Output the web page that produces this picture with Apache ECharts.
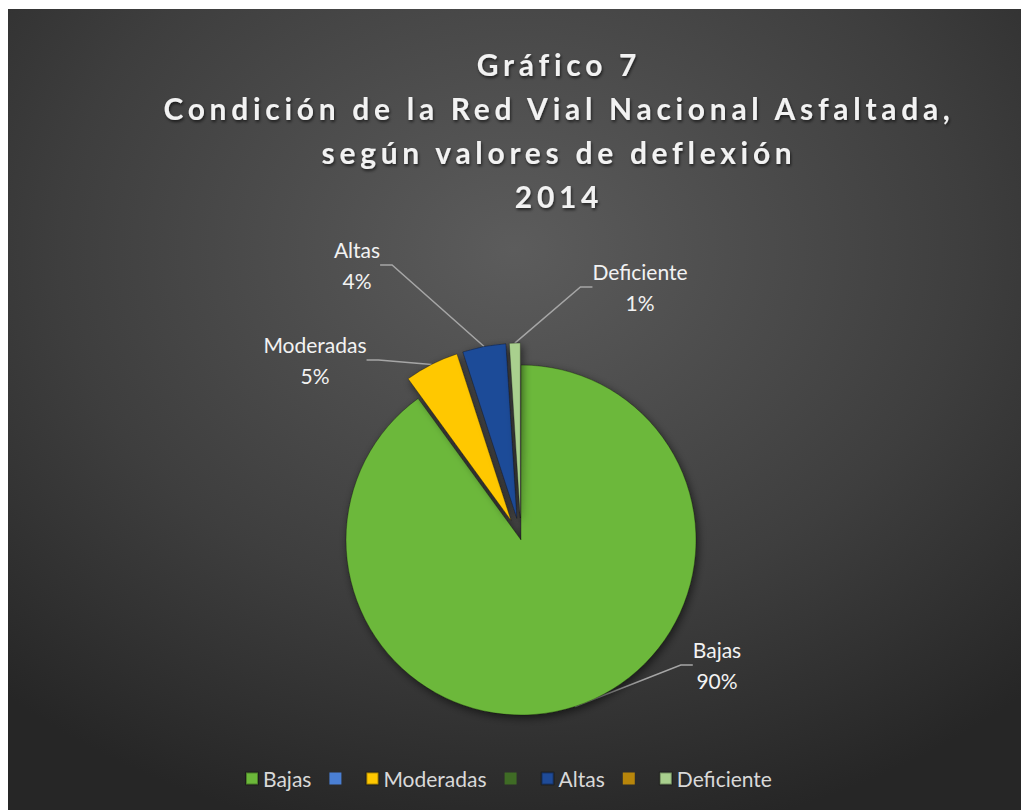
<!DOCTYPE html>
<html>
<head>
<meta charset="utf-8">
<script src="https://cdn.jsdelivr.net/npm/echarts@6/dist/echarts.min.js"></script>
<style>
  html, body { margin: 0; padding: 0; background: #fff; }
  #chart { position: absolute; left: 8px; top: 9px; width: 1013px; height: 801px; }
  /* el titulo original va con espaciado entre letras */
  #chart svg text[style*="30px"] { letter-spacing: 4.7px; }
</style>
</head>
<body>
<div id="chart"></div>
<script>
// categorias (las vacias vienen de la hoja original, sin valor)
const categories = ['Bajas', ' ', 'Moderadas', '  ', 'Altas', '   ', 'Deficiente'];
const shares = [90, 0, 5, 0, 4, 0, 1];
const colors = ['#6cb83a', '#4a7fd4', '#ffc800', '#3f6b25', '#1f4b98', '#b8860b', '#a9d08e'];
const exploded = ['Moderadas', 'Altas', 'Deficiente'];

// posicion de las etiquetas (como en el grafico original)
const labelPos = {
  'Bajas': [709, 656],
  'Moderadas': [307, 351],
  'Altas': [349, 256],
  'Deficiente': [632, 278]
};

const FONT = 'Lato';
const CENTER = [513, 531];
const RADIUS = 175;
const OFFSET = 22;

let chart = echarts.init(document.getElementById('chart'), null, { renderer: 'svg' });

// serie principal: sectores, etiqueta solo de los no separados
let pieData = categories.map((name, i) => {
  let hasValue = shares[i] > 0;
  let isOut = exploded.indexOf(name) >= 0;
  return {
    name: name,
    value: shares[i],
    selected: isOut,
    itemStyle: { color: colors[i], borderWidth: hasValue ? 1 : 0 },
    label: { show: hasValue && !isOut },
    labelLine: { show: hasValue && !isOut }
  };
});

// serie invisible que lleva las etiquetas de los sectores separados
let labelData = categories.map((name, i) => {
  let isOut = exploded.indexOf(name) >= 0 && shares[i] > 0;
  return {
    name: name,
    value: shares[i],
    label: { show: isOut },
    labelLine: { show: isOut }
  };
});

// en la leyenda las categorias vacias solo dejan el cuadrito
let legendData = categories.map(name => {
  if (name.trim() === '') return { name: name, textStyle: { fontSize: 4 } };
  return { name: name };
});

let labelStyle = {
  formatter: '{b}\n{d}%',
  fontFamily: FONT, fontSize: 21, lineHeight: 31, color: '#f2f2f2', align: 'center'
};
let lineStyle = { lineStyle: { color: '#a6a6a6', width: 1.5 }, length: 15, length2: 12 };
let placeLabel = function (p) {
  let pos = labelPos[categories[p.dataIndex]];
  if (!pos) return {};
  return { x: pos[0], y: pos[1], align: 'center', verticalAlign: 'middle' };
};

let option = {
  backgroundColor: {
    type: 'radial', x: 0.5, y: 0.3, r: 0.75,
    colorStops: [
      { offset: 0, color: '#5c5c5c' },
      { offset: 0.6, color: '#3e3e3e' },
      { offset: 1, color: '#262626' }
    ]
  },
  title: {
    text: 'Gráfico 7\nCondición de la Red Vial Nacional Asfaltada,\nsegún valores de deflexión\n2014',
    left: 546, top: 28, textAlign: 'center',
    textStyle: {
      fontFamily: FONT, fontWeight: 'bold', fontSize: 30, lineHeight: 44,
      color: '#f2f2f2',
      textShadowColor: 'rgba(0,0,0,0.6)', textShadowBlur: 3, textShadowOffsetX: 1, textShadowOffsetY: 2
    }
  },
  legend: {
    bottom: 16, left: 232,
    itemWidth: 12, itemHeight: 12, itemGap: 18,
    icon: 'rect',
    data: legendData,
    selectedMode: false,
    formatter: name => name.trim() === '' ? ' ' : name,
    textStyle: { fontFamily: FONT, fontSize: 21, color: '#d9d9d9' }
  },
  series: [{
    type: 'pie',
    center: CENTER,
    radius: RADIUS,
    startAngle: 90,
    clockwise: true,
    selectedMode: 'multiple',
    selectedOffset: OFFSET,
    animation: false,
    data: pieData,
    itemStyle: {
      borderColor: 'rgba(0,0,0,0.3)',
      shadowBlur: 8, shadowColor: 'rgba(0,0,0,0.55)', shadowOffsetX: 2, shadowOffsetY: 3
    },
    label: labelStyle,
    labelLine: lineStyle,
    labelLayout: placeLabel,
    emphasis: { scale: false }
  }, {
    type: 'pie',
    center: CENTER,
    radius: RADIUS + OFFSET,
    startAngle: 90,
    clockwise: true,
    silent: true,
    animation: false,
    data: labelData,
    itemStyle: { color: 'rgba(0,0,0,0)' },
    label: labelStyle,
    labelLine: lineStyle,
    labelLayout: placeLabel,
    emphasis: { disabled: true }
  }]
};

chart.setOption(option);
</script>
</body>
</html>
